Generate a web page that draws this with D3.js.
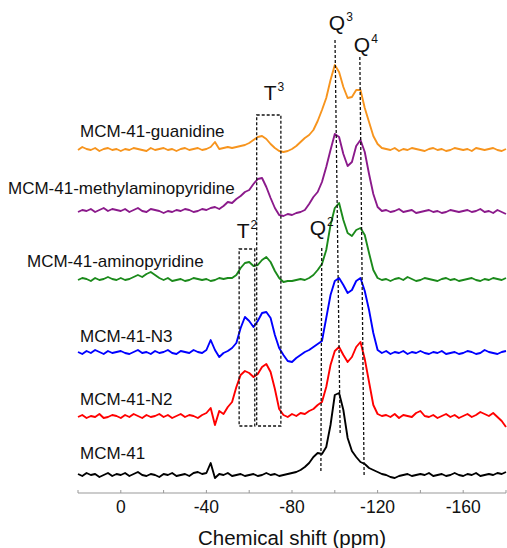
<!DOCTYPE html>
<html>
<head>
<meta charset="utf-8">
<script src="https://cdn.jsdelivr.net/npm/d3@7"></script>
<style>
  body { margin: 0; background: #fff; }
  text { font-family: "Liberation Sans", Arial, Helvetica, sans-serif; fill: #111; }
</style>
</head>
<body>
<script>
var w = 507;
var h = 548;

// 29Si MAS NMR, intensity every 2 ppm (20 ... -180 ppm)
var ppm = d3.range(101).map(function(i) { return 20 - 2 * i; });

var names = ["MCM-41-guanidine", "MCM-41-methylaminopyridine", "MCM-41-aminopyridine",
             "MCM-41-N3", "MCM-41-N2", "MCM-41"];

var guanidine = [
  0, 3, 1, 0, 2, -1, 1, 2, 0, 1,
  -1, 1, 0, 2, 1, 0, -1, 2, 0, 1,
  2, 0, 1, -1, 1, 2, 0, 1, 2, 0,
  1, 3, 8, 1, 2, 3, 2, 3, 4, 5,
  7, 10, 13, 14, 11, 6, 2, -1, -2, -1,
  1, 4, 8, 12, 15, 20, 29, 40, 52, 70,
  85, 78, 63, 52, 53, 60, 60, 42, 28, 14,
  6, 2, 1, 0, 2, -1, 1, 0, 2, 1,
  0, -1, 1, 2, 0, 1, -1, 0, 2, 1,
  0, 1, -1, 2, 1, 0, 1, 2, 0, -1,
  1];
var methylaminopyridine = [
  0, 2, 1, 3, 0, 2, 4, 1, 3, 2,
  1, 3, 0, 2, 4, 1, 0, 3, 2, 1,
  -1, 1, 0, 2, 1, 3, 2, 0, 1, 3,
  2, 4, 5, 3, 6, 10, 9, 13, 16, 20,
  22, 28, 33, 34, 25, 14, 4, -3, -4, -2,
  -3, -1, 0, 2, 8, 15, 20, 30, 45, 62,
  78, 75, 58, 46, 50, 66, 72, 60, 38, 18,
  5, 1, 2, 0, 1, 3, 0, 1, 2, -1,
  0, 1, 2, 0, 1, -1, 0, 2, 1, 0,
  1, 2, 0, 1, 3, 0, 1, -1, 2, 0,
  -2];
var aminopyridine = [
  0, 2, 1, -1, 2, 0, 1, 3, 1, 0,
  2, 0, 1, 3, 5, 3, 6, 8, 5, 2,
  0, 2, -1, 0, 1, -1, 0, 2, 1, 0,
  1, -1, 0, 2, 1, 2, 2, 5, 12, 17,
  18, 14, 15, 20, 23, 18, 9, 2, -2, -1,
  -1, 0, 1, 0, 2, 5, 10, 16, 30, 55,
  72, 77, 60, 47, 44, 50, 52, 45, 27, 10,
  2, 0, 1, -1, 1, 2, 0, 3, 1, -1,
  0, 2, 1, 0, -1, 1, 2, 0, 1, -1,
  0, 1, 2, 0, -1, 1, 0, 2, 1, 0,
  2];
var n3 = [
  1, -1, 2, 0, 3, 1, -1, 2, 0, 1,
  2, 0, -1, 1, 3, 0, 1, -1, 2, 0,
  1, 3, 0, -1, 2, 1, 0, 3, 1, 0,
  3, 13, 3, -4, 0, 2, 5, 10, 25, 36,
  32, 26, 32, 40, 41, 35, 18, 5, -2, -8,
  -9, -5, -2, 1, 3, 6, 9, 12, 35, 58,
  72, 75, 68, 60, 63, 72, 75, 62, 43, 20,
  3, 0, 2, -1, 1, 0, 2, -1, 1, 0,
  2, 0, -1, 1, 0, 2, -1, 0, 1, -1,
  0, 2, 1, -1, 0, 3, 1, 0, -1, 1,
  2];
var n2 = [
  0, 2, -1, 1, 0, 3, -1, 0, 2, 1,
  -1, 2, 0, 3, 1, -1, 2, 0, 1, 3,
  0, 2, -1, 1, 3, 0, 2, 1, -1, 2,
  4, 9, -8, 6, 3, 10, 15, 30, 42, 46,
  44, 40, 43, 50, 53, 45, 28, 8, 2, 0,
  3, 1, 4, 3, 6, 8, 12, 15, 30, 52,
  66, 70, 62, 55, 60, 70, 75, 58, 35, 12,
  3, 1, 2, 0, 3, -1, 2, 1, 0, 4,
  6, 1, 0, 2, -1, 1, 3, 0, 2, -1,
  1, 3, 0, 2, 5, 3, 1, 4, 0, -4,
  -10];
var mcm41 = [
  1, -1, 2, 0, 1, -2, 0, 2, -1, 1,
  0, 2, -1, 1, 3, 0, -1, 1, 0, -2,
  1, 0, 2, -1, 0, 1, -1, 2, 3, 1,
  2, 12, -3, 1, 0, 2, -1, 0, 1, -1,
  0, 1, -1, 0, 2, 0, 1, -1, 0, 1,
  2, 3, 5, 8, 12, 18, 22, 21, 28, 50,
  80, 82, 65, 37, 24, 18, 13, 11, 7, 5,
  3, 1, 0, -2, -3, -1, 0, 1, -1, 0,
  1, 0, 2, -1, 0, 1, -1, 0, 2, 0,
  -1, 1, 0, 2, -1, 0, 1, 0, 2, 1,
  3];

var spectra = [guanidine, methylaminopyridine, aminopyridine, n3, n2, mcm41];

// vertical stacking offset of each spectrum (intensity units)
var offsets = [325, 263, 195, 122, 58, 0];
var colors = ["#f7941d", "#8b1a8b", "#1b8a1b", "#0000ff", "#ff0000", "#000000"];

var xTicks = [0, -40, -80, -120, -160];
var xMinor = [20, -20, -60, -100, -140, -180];

// assignments: dashed lines and boxes, in ppm / intensity units
var peakLines = [
  { ppmTop: -100.1, ppmBot: -102.5, top: 435, bottom: 42 },   // Q3
  { ppmTop: -111.7, ppmBot: -113.7, top: 418, bottom: -2 },   // Q4
  { ppmTop: -93.9,  ppmBot: -93.5,  top: 227, bottom: 2 }     // Q2
];
var boxes = [
  { from: -63.5, to: -74.8, top: 360, bottom: 49 },  // T3
  { from: -55.3, to: -62.6, top: 226, bottom: 49 }   // T2
];
var peakLabels = [
  { base: "Q", sup: "3", at: -97.2,  y: 445 },
  { base: "Q", sup: "4", at: -108.9, y: 423 },
  { base: "T", sup: "3", at: -66.8,  y: 375 },
  { base: "T", sup: "2", at: -54.2,  y: 237 },
  { base: "Q", sup: "2", at: -88.3,  y: 240 }
];

var x = d3.scaleLinear().domain([20, -180]).range([78, 506]);
var y = d3.scaleLinear().domain([-18, 455]).range([493, 20]);

var svg = d3.select("body")
  .append("svg")
  .attr("width", w)
  .attr("height", h);

// spectra
spectra.forEach(function(vals, k) {
  var line = d3.line()
    .x(function(d, i) { return x(ppm[i]); })
    .y(function(d) { return y(offsets[k] + d); });
  svg.append("path")
    .datum(vals)
    .attr("d", line)
    .attr("fill", "none")
    .attr("stroke", colors[k])
    .attr("stroke-width", 1.9)
    .attr("stroke-linejoin", "round");
});

// series labels (left of each trace)
var labelPos = [[80, 338], [8, 281], [27, 208], [80, 133], [80, 70], [80, 16]];
names.forEach(function(n, k) {
  svg.append("text")
    .attr("x", labelPos[k][0])
    .attr("y", y(labelPos[k][1]))
    .attr("font-size", 17)
    .text(n);
});

// dashed assignment lines
svg.selectAll(".pl")
  .data(peakLines)
  .enter()
  .append("line")
  .attr("x1", function(d) { return x(d.ppmTop); })
  .attr("x2", function(d) { return x(d.ppmBot); })
  .attr("y1", function(d) { return y(d.top); })
  .attr("y2", function(d) { return y(d.bottom); })
  .attr("stroke", "#111")
  .attr("stroke-width", 1.3)
  .attr("stroke-dasharray", "3,2");

svg.selectAll(".bx")
  .data(boxes)
  .enter()
  .append("rect")
  .attr("x", function(d) { return x(d.from); })
  .attr("width", function(d) { return x(d.to) - x(d.from); })
  .attr("y", function(d) { return y(d.top); })
  .attr("height", function(d) { return y(d.bottom) - y(d.top); })
  .attr("fill", "none")
  .attr("stroke", "#111")
  .attr("stroke-width", 1.3)
  .attr("stroke-dasharray", "3,2");

var pl = svg.selectAll(".lab")
  .data(peakLabels)
  .enter()
  .append("text")
  .attr("x", function(d) { return x(d.at); })
  .attr("y", function(d) { return y(d.y); })
  .attr("font-size", 21);
pl.append("tspan").text(function(d) { return d.base; });
pl.append("tspan")
  .attr("font-size", 12)
  .attr("dy", -9)
  .attr("dx", 1)
  .text(function(d) { return d.sup; });

// x axis
var axis = svg.append("g").attr("transform", "translate(0," + y(-18) + ")");
axis.append("line")
  .attr("x1", x(20)).attr("x2", x(-180))
  .attr("stroke", "#999").attr("stroke-width", 1);
axis.selectAll(".tk")
  .data(xTicks.concat(xMinor))
  .enter()
  .append("line")
  .attr("x1", function(d) { return x(d); })
  .attr("x2", function(d) { return x(d); })
  .attr("y1", -3).attr("y2", 0)
  .attr("stroke", "#999");
axis.selectAll(".tl")
  .data(xTicks)
  .enter()
  .append("text")
  .attr("x", function(d) { return x(d); })
  .attr("y", 20)
  .attr("text-anchor", "middle")
  .attr("font-size", 17.5)
  .text(function(d) { return d; });

svg.append("text")
  .attr("x", (x(20) + x(-180)) / 2)
  .attr("y", 545)
  .attr("text-anchor", "middle")
  .attr("font-size", 20.5)
  .text("Chemical shift (ppm)");
</script>
</body>
</html>
